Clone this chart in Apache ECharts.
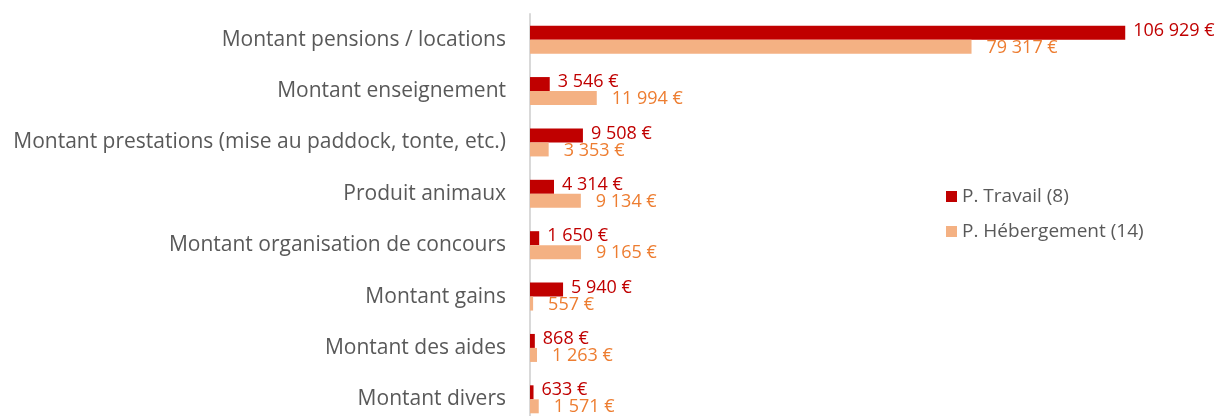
<!DOCTYPE html>
<html>
<head>
<meta charset="utf-8">
<script src="https://cdn.jsdelivr.net/npm/echarts@6/dist/echarts.min.js"></script>
<style>
  html, body { margin: 0; padding: 0; background: #fff; overflow: hidden; }
  /* le graphique d'origine est coupé en bas : on dessine plus haut que la fenêtre */
  #chart { width: 1222px; height: 430px; }
</style>
</head>
<body>
<div id="chart"></div>
<script>
// catégories (de haut en bas)
const categories = [
  'Montant pensions / locations',
  'Montant enseignement',
  'Montant prestations (mise au paddock, tonte, etc.)',
  'Produit animaux',
  'Montant organisation de concours',
  'Montant gains',
  'Montant des aides',
  'Montant divers'
]
const travail = [106929, 3546, 9508, 4314, 1650, 5940, 868, 633]
const hebergement = [79317, 11994, 3353, 9134, 9165, 557, 1263, 1571]
const seriesNames = ['P. Travail (8)', 'P. Hébergement (14)']

const fmt = v => String(v).replace(/\B(?=(\d{3})+(?!\d))/g, ' ') + ' €'
const font = 'Open Sans'

const myChart = echarts.init(document.getElementById('chart'))
const option = {
  animation: false,
  textStyle: { fontFamily: font },
  grid: { left: 530, right: 24, top: 14, height: 411 },
  legend: {
    orient: 'vertical',
    left: 941,
    top: 182,
    itemWidth: 11,
    itemHeight: 11,
    itemGap: 16,
    icon: 'rect',
    textStyle: { color: '#595959', fontSize: 19, fontFamily: font },
    data: seriesNames
  },
  xAxis: {
    type: 'value',
    min: 0,
    max: 120000,
    show: false,
    splitLine: { show: false }
  },
  yAxis: {
    type: 'category',
    inverse: true,
    data: categories,
    axisLine: { lineStyle: { color: '#d9d9d9', width: 2 } },
    axisTick: { show: false },
    axisLabel: { color: '#595959', fontSize: 21, margin: 24, fontFamily: font }
  },
  series: [
    {
      name: seriesNames[0],
      type: 'bar',
      data: travail,
      barWidth: 14,
      barGap: '0%',
      itemStyle: { color: '#c00000' },
      label: {
        show: true,
        position: 'right',
        distance: 8,
        offset: [0, -2],
        color: '#c00000',
        fontSize: 18,
        fontFamily: font,
        formatter: p => fmt(p.value)
      }
    },
    {
      name: seriesNames[1],
      type: 'bar',
      data: hebergement,
      barWidth: 14,
      itemStyle: { color: '#f4b183' },
      label: {
        show: true,
        position: 'right',
        distance: 15,
        offset: [0, 1],
        color: '#ed7d31',
        fontSize: 18,
        fontFamily: font,
        formatter: p => fmt(p.value)
      }
    }
  ]
}
myChart.setOption(option)
</script>
</body>
</html>
